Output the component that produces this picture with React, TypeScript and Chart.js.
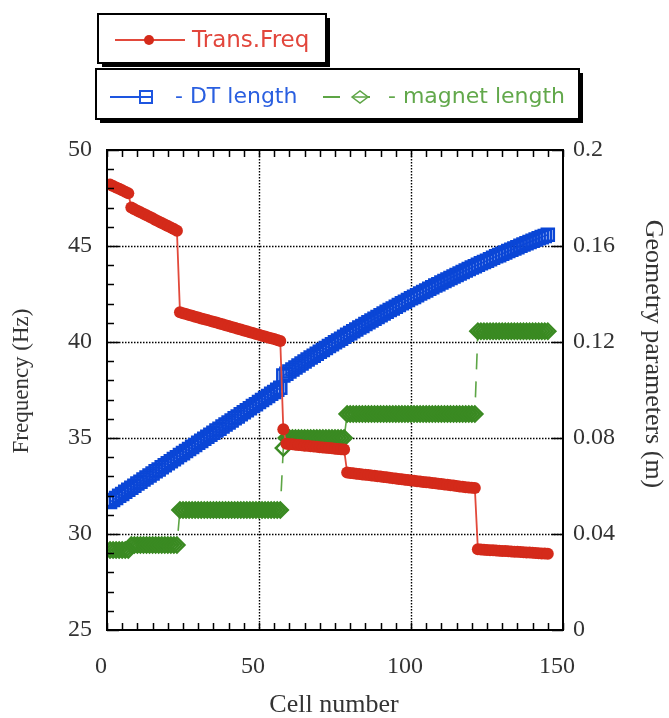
import React, { useEffect, useRef } from "react";
import { Chart, registerables } from "chart.js";

Chart.register(...registerables);

// ---- data ----
const cellNumbers: number[] = Array.from({ length: 145 }, (_, i) => i + 1);

const transFreq: number[] = [
  48.2, 48.12, 48.05, 47.98, 47.9, 47.83, 47.75,
  47.0, 46.92, 46.84, 46.76, 46.68, 46.6, 46.52, 46.44, 46.36, 46.28, 46.2, 46.12, 46.04, 45.96, 45.88, 45.8,
  41.55, 41.5, 41.46, 41.41, 41.37, 41.32, 41.28, 41.23, 41.19, 41.14, 41.1, 41.05, 41.01, 40.96, 40.92, 40.87, 40.83,
  40.78, 40.74, 40.69, 40.65, 40.6, 40.56, 40.51, 40.47, 40.42, 40.38, 40.33, 40.29, 40.24, 40.2, 40.15, 40.11, 40.05,
  35.45,
  34.7, 34.68, 34.67, 34.65, 34.64, 34.62, 34.6, 34.59, 34.57, 34.56, 34.54, 34.52, 34.51, 34.49, 34.48, 34.46, 34.44, 34.43, 34.41, 34.4,
  33.2, 33.18, 33.16, 33.14, 33.12, 33.1, 33.09, 33.07, 33.05, 33.03,
  33.01, 32.99, 32.97, 32.95, 32.93, 32.91, 32.89, 32.87, 32.85, 32.83,
  32.81, 32.79, 32.77, 32.75, 32.73, 32.71, 32.7, 32.68, 32.66, 32.64,
  32.62, 32.6, 32.58, 32.56, 32.54, 32.52, 32.5, 32.48, 32.46, 32.44,
  32.42, 32.41, 32.4,
  29.2, 29.19, 29.18, 29.17, 29.16, 29.15, 29.14, 29.13, 29.12, 29.11, 29.1, 29.09,
  29.08, 29.07, 29.06, 29.05, 29.04, 29.03, 29.02, 29.01, 29.0, 28.99, 28.98, 28.97,
];

const dtLength: number[] = [
  0.0533, 0.0542, 0.055, 0.0559, 0.0567, 0.0576, 0.0584, 0.0593, 0.0601, 0.061,
  0.0618, 0.0627, 0.0635, 0.0644, 0.0652, 0.0661, 0.0669, 0.0678, 0.0686, 0.0695,
  0.0703, 0.0712, 0.072, 0.0729, 0.0737, 0.0746, 0.0754, 0.0763, 0.0771, 0.078,
  0.0788, 0.0797, 0.0805, 0.0814, 0.0822, 0.0831, 0.0839, 0.0848, 0.0856, 0.0865,
  0.0873, 0.0882, 0.089, 0.0899, 0.0907, 0.0916, 0.0924, 0.0933, 0.0941, 0.095,
  0.0958, 0.0967, 0.0975, 0.0984, 0.0992, 0.1001, 0.1009,
  0.106, 0.1068, 0.1077, 0.1085, 0.1094, 0.1102, 0.111, 0.1119, 0.1127, 0.1135,
  0.1143, 0.1151, 0.1159, 0.1167, 0.1175, 0.1183, 0.1191, 0.1199, 0.1206, 0.1214,
  0.1222, 0.123, 0.1237, 0.1245, 0.1252, 0.126, 0.1267, 0.1275, 0.1282, 0.129,
  0.1297, 0.1304, 0.1311, 0.1319, 0.1326, 0.1333, 0.134, 0.1347, 0.1354, 0.1361,
  0.1368, 0.1375, 0.1382, 0.1388, 0.1395, 0.1402, 0.1408, 0.1415, 0.1422, 0.1428,
  0.1435, 0.1441, 0.1448, 0.1454, 0.146, 0.1467, 0.1473, 0.1479, 0.1485, 0.1492,
  0.1498, 0.1504, 0.151, 0.1516, 0.1522, 0.1528, 0.1533, 0.1539, 0.1545, 0.1551,
  0.1557, 0.1562, 0.1568, 0.1573, 0.1579, 0.1584, 0.159, 0.1595, 0.1601, 0.1606,
  0.1611, 0.1617, 0.1622, 0.1627, 0.1632, 0.1637, 0.1642, 0.1647,
];

const magnetLength: number[] = [
  0.0333, 0.0333, 0.0333, 0.0333, 0.0333, 0.0333, 0.0333,
  0.0354, 0.0354, 0.0354, 0.0354, 0.0354, 0.0354, 0.0354, 0.0354,
  0.0354, 0.0354, 0.0354, 0.0354, 0.0354, 0.0354, 0.0354, 0.0354,
  0.05, 0.05, 0.05, 0.05, 0.05, 0.05, 0.05, 0.05, 0.05, 0.05,
  0.05, 0.05, 0.05, 0.05, 0.05, 0.05, 0.05, 0.05, 0.05, 0.05,
  0.05, 0.05, 0.05, 0.05, 0.05, 0.05, 0.05, 0.05, 0.05, 0.05,
  0.05, 0.05, 0.05, 0.05,
  0.0758,
  0.08, 0.08, 0.08, 0.08, 0.08, 0.08, 0.08, 0.08, 0.08, 0.08,
  0.08, 0.08, 0.08, 0.08, 0.08, 0.08, 0.08, 0.08, 0.08, 0.08,
  0.09, 0.09, 0.09, 0.09, 0.09, 0.09, 0.09, 0.09, 0.09, 0.09,
  0.09, 0.09, 0.09, 0.09, 0.09, 0.09, 0.09, 0.09, 0.09, 0.09,
  0.09, 0.09, 0.09, 0.09, 0.09, 0.09, 0.09, 0.09, 0.09, 0.09,
  0.09, 0.09, 0.09, 0.09, 0.09, 0.09, 0.09, 0.09, 0.09, 0.09,
  0.09, 0.09, 0.09,
  0.1245, 0.1245, 0.1245, 0.1245, 0.1245, 0.1245, 0.1245, 0.1245, 0.1245, 0.1245, 0.1245, 0.1245,
  0.1245, 0.1245, 0.1245, 0.1245, 0.1245, 0.1245, 0.1245, 0.1245, 0.1245, 0.1245, 0.1245, 0.1245,
];

const xTicks = [0, 50, 100, 150];
const freqTicks = [25, 30, 35, 40, 45, 50];
const geomTicks = [0, 0.04, 0.08, 0.12, 0.16, 0.2];
const xMinorStep = 5;
const freqMinorStep = 1;

const xTitle = "Cell number";
const freqTitle = "Frequency (Hz)";
const geomTitle = "Geometry parameters (m)";
const freqLabel = "Trans.Freq";
const dtLabel = "- DT length";
const magnetLabel = "- magnet length";

const RED = "#d42a1a";
const RED_LINE = "#e2493b";
const BLUE = "#0a46d6";
const BLUE_LINE = "#1d55e0";
const GREEN = "#3a8a22";
const GREEN_LINE = "#5da545";
const SERIF = "'Liberation Serif', 'Times New Roman', serif";
const SANS = "'DejaVu Sans', sans-serif";

const decoPlugin = {
  id: "deco",
  beforeDatasetsDraw(chart: any) {
    const { ctx, chartArea: a, scales } = chart;
    ctx.save();
    ctx.strokeStyle = "#000";
    ctx.lineWidth = 1.4;
    ctx.setLineDash([1.5, 1.5]);
    ctx.beginPath();
    for (const v of xTicks) {
      if (v > scales.x.min && v < scales.x.max) {
        const p = Math.round(scales.x.getPixelForValue(v)) + 0.5;
        ctx.moveTo(p, a.top);
        ctx.lineTo(p, a.bottom);
      }
    }
    for (const v of freqTicks) {
      if (v > scales.y.min && v < scales.y.max) {
        const p = Math.round(scales.y.getPixelForValue(v)) + 0.5;
        ctx.moveTo(a.left, p);
        ctx.lineTo(a.right, p);
      }
    }
    ctx.stroke();
    ctx.restore();
  },
  afterDatasetsDraw(chart: any) {
    const { ctx, chartArea: a, scales } = chart;
    ctx.save();
    ctx.strokeStyle = "#000";
    ctx.lineWidth = 1.5;
    ctx.setLineDash([]);
    ctx.beginPath();
    for (let v = scales.x.min; v <= scales.x.max + 1e-9; v += xMinorStep) {
      const p = Math.round(scales.x.getPixelForValue(v)) + 0.5;
      ctx.moveTo(p, a.bottom);
      ctx.lineTo(p, a.bottom - 7);
      ctx.moveTo(p, a.top);
      ctx.lineTo(p, a.top + 7);
    }
    for (let v = scales.y.min; v <= scales.y.max + 1e-9; v += freqMinorStep) {
      const p = Math.round(scales.y.getPixelForValue(v)) + 0.5;
      const major = freqTicks.includes(Math.round(v));
      ctx.moveTo(a.left, p);
      ctx.lineTo(a.left + (major ? 12 : 7), p);
    }
    for (const v of geomTicks) {
      const p = Math.round(scales.y1.getPixelForValue(v)) + 0.5;
      ctx.moveTo(a.right, p);
      ctx.lineTo(a.right - 11, p);
    }
    ctx.stroke();
    ctx.lineWidth = 2;
    ctx.strokeRect(a.left, a.top, a.right - a.left, a.bottom - a.top);
    ctx.restore();
  },
  afterDraw(chart: any) {
    const { ctx, chartArea: a } = chart;
    ctx.save();
    ctx.fillStyle = "#333";
    ctx.textAlign = "center";
    ctx.textBaseline = "middle";
    ctx.font = `26px ${SERIF}`;
    ctx.fillText(xTitle, (a.left + a.right) / 2 - 1, 705);
    ctx.save();
    ctx.translate(22, 381);
    ctx.rotate(-Math.PI / 2);
    ctx.font = `23px ${SERIF}`;
    ctx.fillText(freqTitle, 0, 0);
    ctx.restore();
    ctx.save();
    ctx.translate(653, 354);
    ctx.rotate(Math.PI / 2);
    ctx.font = `26px ${SERIF}`;
    ctx.fillText(geomTitle, 0, 0);
    ctx.restore();

    const box = (x: number, y: number, w: number, h: number) => {
      ctx.fillStyle = "#000";
      ctx.fillRect(x + 4, y + 4, w, h);
      ctx.fillStyle = "#fff";
      ctx.fillRect(x, y, w, h);
      ctx.strokeStyle = "#000";
      ctx.lineWidth = 2;
      ctx.strokeRect(x, y, w, h);
    };
    box(98, 14, 228, 49);
    box(96, 69, 483, 50);

    ctx.textAlign = "left";
    ctx.textBaseline = "middle";
    ctx.strokeStyle = RED_LINE;
    ctx.lineWidth = 2;
    ctx.beginPath();
    ctx.moveTo(115, 40);
    ctx.lineTo(185, 40);
    ctx.stroke();
    ctx.fillStyle = RED;
    ctx.beginPath();
    ctx.arc(149, 40, 5, 0, Math.PI * 2);
    ctx.fill();
    ctx.fillStyle = "#e2463c";
    ctx.font = `23px ${SANS}`;
    ctx.fillText(freqLabel, 192, 41);

    ctx.strokeStyle = BLUE_LINE;
    ctx.lineWidth = 2;
    ctx.beginPath();
    ctx.moveTo(110, 97);
    ctx.lineTo(153, 97);
    ctx.stroke();
    ctx.strokeRect(140, 91, 12, 12);
    ctx.fillStyle = "#2a5fe0";
    ctx.font = `22px ${SANS}`;
    ctx.fillText(dtLabel, 175, 97);

    ctx.strokeStyle = GREEN_LINE;
    ctx.lineWidth = 2;
    ctx.setLineDash([17, 13]);
    ctx.beginPath();
    ctx.moveTo(323, 97);
    ctx.lineTo(372, 97);
    ctx.stroke();
    ctx.setLineDash([]);
    ctx.fillStyle = "#fff";
    ctx.strokeStyle = GREEN_LINE;
    ctx.lineWidth = 1.5;
    ctx.beginPath();
    ctx.moveTo(352, 97);
    ctx.lineTo(360, 91);
    ctx.lineTo(368, 97);
    ctx.lineTo(360, 103);
    ctx.closePath();
    ctx.fill();
    ctx.stroke();
    ctx.beginPath();
    ctx.moveTo(353, 97);
    ctx.lineTo(367, 97);
    ctx.stroke();
    ctx.fillStyle = "#62a84b";
    ctx.fillText(magnetLabel, 388, 97);
    ctx.restore();
  },
};

export default function App() {
  const canvasRef = useRef<HTMLCanvasElement | null>(null);

  useEffect(() => {
    const canvas = canvasRef.current;
    if (!canvas) return;
    const tickFont = { family: SERIF, size: 24 };
    const chart = new Chart(canvas, {
      type: "line",
      data: {
        datasets: [
          {
            label: freqLabel,
            data: cellNumbers.map((c, i) => ({ x: c, y: transFreq[i] })),
            yAxisID: "y",
            borderColor: RED_LINE,
            borderWidth: 1.8,
            pointStyle: "circle",
            pointRadius: 6,
            pointBorderWidth: 0,
            pointBackgroundColor: RED,
            pointBorderColor: RED,
            tension: 0,
          },
          {
            label: dtLabel,
            data: cellNumbers.map((c, i) => ({ x: c, y: dtLength[i] })),
            yAxisID: "y1",
            borderColor: BLUE_LINE,
            borderWidth: 1.5,
            pointStyle: "rect",
            pointRadius: 8.5,
            pointBorderWidth: 2.5,
            pointBackgroundColor: "rgba(0,0,0,0)",
            pointBorderColor: BLUE,
            tension: 0,
          },
          {
            label: magnetLabel,
            data: cellNumbers.map((c, i) => ({ x: c, y: magnetLength[i] })),
            yAxisID: "y1",
            borderColor: GREEN_LINE,
            borderWidth: 1.6,
            borderDash: [16, 12],
            pointStyle: "rectRot",
            pointRadius: 7.5,
            pointBorderWidth: 2.5,
            pointBackgroundColor: "rgba(0,0,0,0)",
            pointBorderColor: GREEN,
            tension: 0,
          },
        ],
      },
      options: {
        responsive: false,
        animation: false,
        devicePixelRatio: 1,
        layout: { padding: { top: 150, left: 0, right: 0, bottom: 0 } },
        plugins: { legend: { display: false }, tooltip: { enabled: false } },
        scales: {
          x: {
            type: "linear",
            min: 0,
            max: 150,
            afterBuildTicks: (s: any) => {
              s.ticks = xTicks.map((v) => ({ value: v }));
            },
            afterFit: (s: any) => {
              s.height = 88;
            },
            grid: { display: false, drawTicks: false },
            border: { display: false },
            ticks: {
              padding: 22,
              labelOffset: -6,
              color: "#333",
              font: tickFont,
              maxRotation: 0,
              autoSkip: false,
            },
          },
          y: {
            type: "linear",
            position: "left",
            min: 25,
            max: 50,
            afterBuildTicks: (s: any) => {
              s.ticks = freqTicks.map((v) => ({ value: v }));
            },
            afterFit: (s: any) => {
              s.width = 107;
            },
            grid: { display: false, drawTicks: false },
            border: { display: false },
            ticks: { padding: 15, color: "#333", font: tickFont, autoSkip: false },
          },
          y1: {
            type: "linear",
            position: "right",
            min: 0,
            max: 0.2,
            afterBuildTicks: (s: any) => {
              s.ticks = geomTicks.map((v) => ({ value: v }));
            },
            afterFit: (s: any) => {
              s.width = 106;
            },
            grid: { display: false, drawTicks: false },
            border: { display: false },
            ticks: {
              padding: 10,
              color: "#333",
              font: tickFont,
              autoSkip: false,
              callback: (v: any) => String(Math.round(Number(v) * 100) / 100),
            },
          },
        },
      },
      plugins: [decoPlugin],
    } as any);
    return () => chart.destroy();
  }, []);

  return (
    <canvas
      ref={canvasRef}
      width={669}
      height={718}
      style={{ position: "fixed", left: 0, top: 0, width: 669, height: 718, background: "#fff" }}
    />
  );
}
